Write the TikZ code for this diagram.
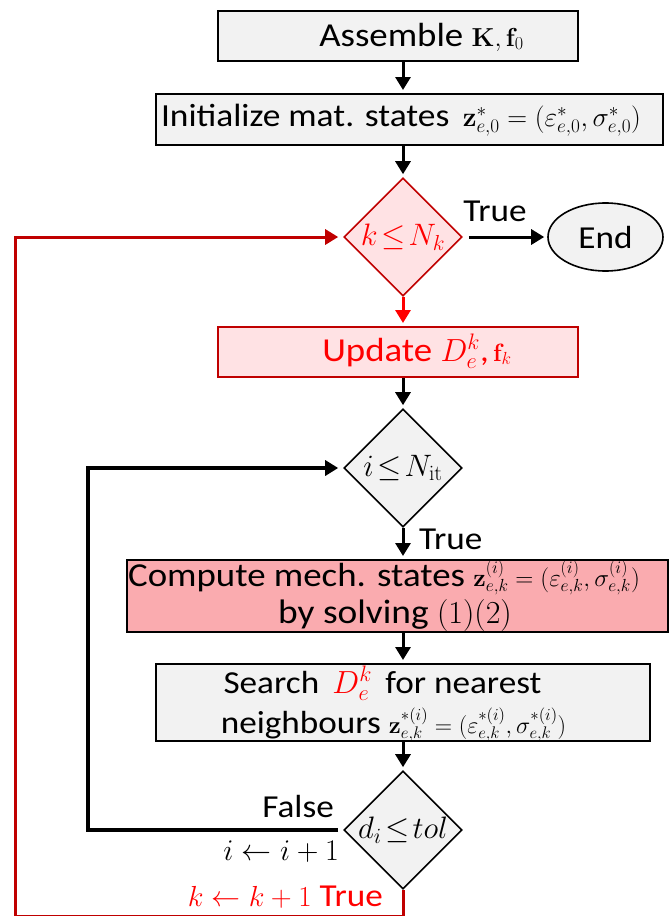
\documentclass[tikz,border=0pt]{standalone}
\usepackage{fix-cm}
\usepackage[no-math]{fontspec}
\setmainfont[FakeStretch=1.1]{Carlito}
\usetikzlibrary{shapes.geometric,arrows.meta}

\definecolor{boxgray}{RGB}{242,242,242}
\definecolor{lightpink}{RGB}{255,226,228}
\definecolor{deepred}{RGB}{192,0,0}
\definecolor{brightred}{RGB}{255,0,0}
\definecolor{rosefill}{RGB}{250,171,175}

\newcommand\fsz[1]{\fontsize{#1}{#1}\selectfont}

\tikzset{
  x=1pt, y=-1pt,
  procbox/.style={draw=black, line width=2pt, fill=boxgray, inner sep=0pt},
  redbox/.style={draw=deepred, line width=2pt, fill=lightpink, inner sep=0pt},
  rosebox/.style={draw=black, line width=2pt, fill=rosefill, inner sep=0pt},
  decision/.style={diamond, aspect=1, draw=black, line width=1.6pt, fill=boxgray,
    inner sep=0pt, minimum size=118pt, font=\fsz{31}},
  txt/.style={inner sep=0pt, font=\fsz{33.5}},
  arr/.style={line width=3pt, -{Triangle[length=13pt,width=15pt]}, shorten >=3pt},
  looparr/.style={line width=4pt, -{Triangle[length=13pt,width=15pt]}, shorten >=5pt},
  redloop/.style={draw=deepred, line width=3pt, -{Triangle[length=13pt,width=15pt]}, shorten >=5pt},
}

\begin{document}
\begin{tikzpicture}
\useasboundingbox (0,0) rectangle (669,916);

% ---- boxes -------------------------------------------------------------
\node[procbox, minimum width=360pt, minimum height=50pt] (assemble) at (398,36) {};
\node[txt, anchor=base] (assemble-t) at (421.5,46)
  {Assemble {\fsz{26}$\mathbf{K},\mathbf{f}_0$}};

\node[procbox, minimum width=507pt, minimum height=51pt] (init) at (409.5,119.5) {};
\node[txt, anchor=base, font=\fsz{32.2}] (init-t) at (401,126)
  {Initialize mat. states\, {\fsz{27.5}$\mathbf{z}^*_{e,0}=(\varepsilon^*_{e,0},\sigma^*_{e,0})$}};

\node[decision, draw=deepred, fill=lightpink, text=brightred] (kloop) at (403,237)
  {$k\mkern2mu{\leq}\mkern2mu N_k$};

\node[ellipse, draw=black, line width=1.6pt, fill=boxgray, minimum width=115pt,
  minimum height=68pt, inner sep=0pt, font=\fsz{32}] (end) at (605.5,237) {End};

\node[redbox, minimum width=360pt, minimum height=50pt] (update) at (398,352) {};
\node[txt, anchor=base, text=brightred] (update-t) at (417,361)
  {Update {\fsz{32}$D_e^k$,}{\fsz{25}$\,\mathbf{f}_k$}};

\node[decision] (iloop) at (403,468) {$i\mkern2mu{\leq}\mkern2mu N_{\mathrm{it}}$};

\node[rosebox, minimum width=541pt, minimum height=72pt] (compute) at (397.5,596) {};
\node[txt, anchor=base, font=\fsz{33.5}] (compute-l1) at (384,586)
  {Compute mech. states {\fsz{25}$\mathbf{z}^{(i)}_{e,k}=(\varepsilon^{(i)}_{e,k},\sigma^{(i)}_{e,k})$}};
\node[txt, anchor=base, font=\fsz{34}] (compute-l2) at (395,623)
  {by solving {\fsz{32}$(1)(2)$}};

\node[procbox, minimum width=494pt, minimum height=77pt] (search) at (403,702.5) {};
\node[txt, anchor=base, font=\fsz{32}] (search-l1) at (382.5,693)
  {Search\, {\fsz{32}\color{brightred}$D_e^k$}\, for nearest};
\node[txt, anchor=base, font=\fsz{32}] (search-l2) at (393.5,733)
  {neighbours {\fsz{24}$\mathbf{z}^{*(i)}_{e,k}=(\varepsilon^{*(i)}_{e,k},\sigma^{*(i)}_{e,k})$}};

\node[decision] (tol) at (403,830) {$d_i\mkern2mu{\leq}\mkern2mu tol$};

% ---- labels ------------------------------------------------------------
\node[txt, font=\fsz{32}, anchor=base] (true-k) at (495,221) {True};
\node[txt, font=\fsz{32}, anchor=base west] (true-i) at (419,549) {True};
\node[txt, font=\fsz{32}, anchor=base east] (false-t) at (334,817) {False};
\node[txt, font=\fsz{30}, anchor=base east] (inc-i) at (339,860) {$i\leftarrow i+1$};
\node[txt, font=\fsz{32}, anchor=base east, text=brightred] (inc-k) at (383,906)
  {{\fsz{29}$k\leftarrow k+1$} True};

% ---- loop corners --------------------------------------------------------
\coordinate (ibend-low) at (88,830);
\coordinate (ibend-up) at (88,468);
\coordinate (kbend-a) at (403,916);
\coordinate (kbend-b) at (15,916);
\coordinate (kbend-c) at (15,237);

% ---- connectors ----------------------------------------------------------
\draw[arr] (assemble.south -| kloop.north) -- (init.north -| kloop.north);
\draw[arr] (init.south -| kloop.north) -- (kloop.north);
\draw[arr, draw=brightred, fill=brightred] (kloop.south) -- (update.north -| kloop.south);
\draw[arr, shorten <=6pt] (kloop.east) -- (end.west);
\draw[arr] (update.south -| iloop.north) -- (iloop.north);
\draw[arr] (iloop.south) -- (compute.north -| iloop.south);
\draw[arr] (compute.south -| iloop.south) -- (search.north -| iloop.south);
\draw[arr] (search.south -| tol.north) -- (tol.north);

\draw[looparr, shorten <=5pt] (tol.west) -- (ibend-low) -- (ibend-up) -- (iloop.west);
\draw[redloop] (tol.south) -- (kbend-a) -- (kbend-b) -- (kbend-c) -- (kloop.west);
\end{tikzpicture}
\end{document}
